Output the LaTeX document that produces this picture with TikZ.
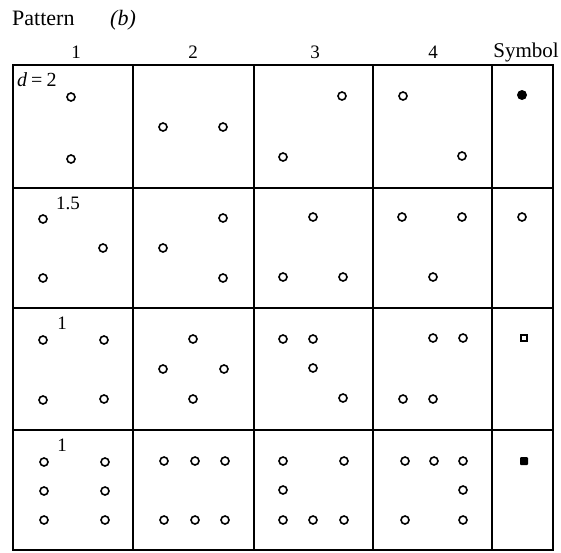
\documentclass[tikz,border=0pt]{standalone}
\usepackage{fontspec}
\setmainfont{Liberation Serif}
\begin{document}
\begin{tikzpicture}[x=1pt,y=-1pt,
  grid/.style={line width=1.4pt},
  dot/.style={circle,draw,line width=1.6pt,inner sep=0pt,minimum size=8pt},
  fulldot/.style={circle,fill,inner sep=0pt,minimum size=10pt},
  openbox/.style={rectangle,draw,line width=1.6pt,inner sep=0pt,minimum size=6.5pt},
  fullbox/.style={rectangle,fill,rounded corners=1pt,inner sep=0pt,minimum size=8pt},
  big/.style={font=\fontsize{22}{24}\selectfont,inner sep=0pt},
  head/.style={font=\fontsize{19}{21}\selectfont,inner sep=0pt,anchor=base},
  lab/.style={font=\fontsize{19}{21}\selectfont,inner sep=0pt,anchor=base}]
\useasboundingbox (0,0) rectangle (561,552);

% titles
\node[big,anchor=base west] (title) at (12,25) {Pattern};
\node[big,anchor=base west] (part) at (110,25) {\textit{(b)}};

% column headings
\node[head] (h1) at (76,58) {1};
\node[head] (h2) at (193,58) {2};
\node[head] (h3) at (315,58) {3};
\node[head] (h4) at (433,58) {4};
\node[head,font=\fontsize{21}{23}\selectfont] (hs) at (526,57) {Symbol};

% table frame and rules
\draw[grid] (13,65) rectangle (553,550);
\foreach \x in {133,254,373,492} \draw[grid] (\x,65) -- (\x,550);
\foreach \y in {188,308,430} \draw[grid] (13,\y) -- (553,\y);

% spacing labels
\node[lab,anchor=base west,font=\fontsize{20}{22}\selectfont] (d1) at (17,86)
  {\textit{d}\hspace{4pt}=\hspace{4pt}2};
\node[lab,anchor=base west] (d2) at (56,209) {1.5};
\node[lab] (d3) at (62,329) {1};
\node[lab] (d4) at (62,451) {1};

% row 1
\foreach \p [count=\i] in {(71,97),(71,159),(163,127),(223,127),(342,96),(283,157),(403,96),(462,156)}
  \node[dot] (a\i) at \p {};
\node[fulldot] (sa) at (522,95) {};

% row 2
\foreach \p [count=\i] in {(43,219),(103,248),(43,278),(223,218),(163,248),(223,278),(313,217),(283,277),(343,277),(402,217),(462,217),(433,277)}
  \node[dot] (b\i) at \p {};
\node[dot] (sb) at (522,217) {};

% row 3
\foreach \p [count=\i] in {(43,340),(104,340),(43,400),(104,399),(193,339),(163,369),(224,369),(193,399),(283,339),(313,339),(313,368),(343,398),(433,338),(463,338),(403,399),(433,399)}
  \node[dot] (c\i) at \p {};
\node[openbox] (sc) at (524,338) {};

% row 4
\foreach \p [count=\i] in {(44,462),(105,462),(44,491),(105,491),(44,520),(105,520),(164,461),(195,461),(225,461),(164,520),(195,520),(225,520),(283,461),(344,461),(283,490),(283,520),(313,520),(344,520),(405,461),(434,461),(463,461),(463,490),(405,520),(463,520)}
  \node[dot] (e\i) at \p {};
\node[fullbox] (se) at (524,461) {};
\end{tikzpicture}
\end{document}
